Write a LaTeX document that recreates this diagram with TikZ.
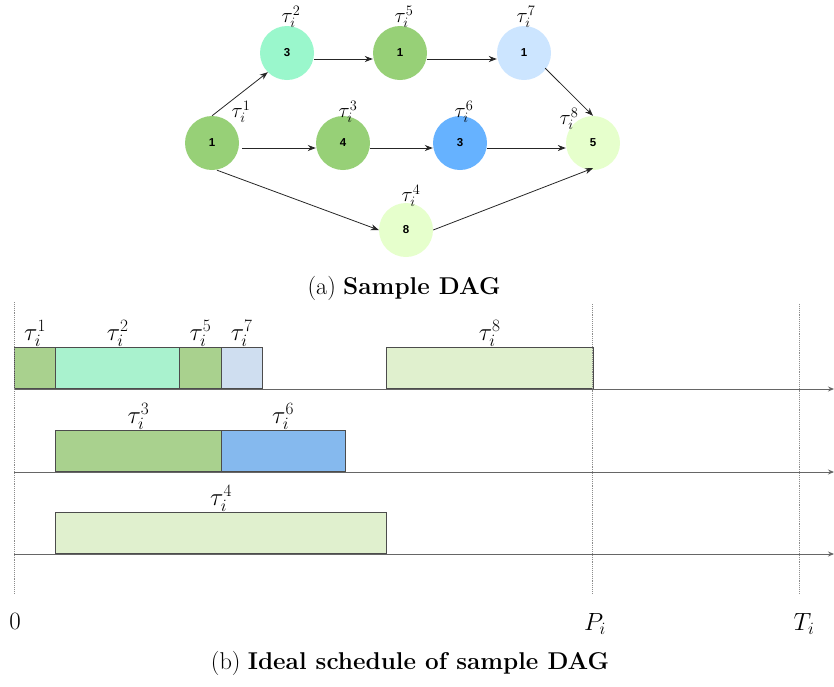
\documentclass[tikz,border=0pt]{standalone}
\usepackage{fontspec}
\newfontfamily\numfont{Liberation Sans}
\usetikzlibrary{arrows.meta}
% DAG node fills
\definecolor{dagGreen}{HTML}{97D077}
\definecolor{dagMint}{HTML}{9AF7CC}
\definecolor{dagSky}{HTML}{CCE5FF}
\definecolor{dagBlue}{HTML}{66B2FF}
\definecolor{dagPale}{HTML}{E6FFCC}
% schedule slot fills
\definecolor{slGreen}{HTML}{A9D18E}
\definecolor{slMint}{HTML}{A9F2CE}
\definecolor{slSky}{HTML}{CFDEF0}
\definecolor{slBlue}{HTML}{85B9EE}
\definecolor{slPale}{HTML}{E0F0CE}
\newcommand{\slotbox}[6]{%
  \node[slot, fill=#5, minimum width=#3*41.33pt] (#1) at (14+#2*41.33,#4) {};
  \node[slabel] at (#1.north) {$\tau_i^{#6}$};}
\begin{document}
\begin{tikzpicture}[x=1pt,y=-1pt,
  task/.style={circle, minimum size=54pt, inner sep=0pt,
    font=\numfont\bfseries\fontsize{11.5}{13}\selectfont},
  dlabel/.style={font=\fontsize{22}{24}\selectfont, inner sep=0pt},
  slabel/.style={font=\fontsize{26}{28}\selectfont, anchor=south, inner sep=0.5pt},
  edge/.style={-{Stealth[length=8pt,width=6pt]}, line width=0.8pt, draw=black!85},
  slot/.style={draw=black!70, line width=0.9pt, minimum height=41pt,
    inner sep=0pt, anchor=south west},
  axis/.style={draw=black!60, line width=0.9pt, -{Stealth[length=6pt,width=5pt]}},
  guide/.style={draw=black!45, line width=0.9pt, densely dotted},
  tick/.style={font=\fontsize{26}{28}\selectfont},
  caption/.style={font=\fontsize{24.3}{28}\selectfont}]
\useasboundingbox (0,0) rectangle (834,686);

% ---- DAG ----
\node[task, fill=dagGreen] (n1) at (212,143) {1};
\node[task, fill=dagMint]  (n2) at (287,53)  {3};
\node[task, fill=dagGreen] (n5) at (400,53)  {1};
\node[task, fill=dagSky]   (n7) at (524,53)  {1};
\node[task, fill=dagGreen] (n3) at (343,143) {4};
\node[task, fill=dagBlue]  (n6) at (460,143) {3};
\node[task, fill=dagPale]  (n8) at (593,143) {5};
\node[task, fill=dagPale]  (n4) at (406,230) {8};

\node[dlabel] at (291,17)  {$\tau_i^2$};
\node[dlabel] at (404,17)  {$\tau_i^5$};
\node[dlabel] at (526,17)  {$\tau_i^7$};
\node[dlabel] at (241,112) {$\tau_i^1$};
\node[dlabel] at (348,112) {$\tau_i^3$};
\node[dlabel] at (464,112) {$\tau_i^6$};
\node[dlabel] at (569,119) {$\tau_i^8$};
\node[dlabel] at (411,196) {$\tau_i^4$};

\draw[edge] (n1.north) -- (n2.south west);
\draw[edge] ([yshift=-6pt]n2.east) -- ([yshift=-6pt]n5.west);
\draw[edge] ([yshift=-6pt]n5.east) -- ([yshift=-6pt]n7.west);
\draw[edge] ([xshift=2pt,yshift=4pt]n7.south east) -- (n8.north);
\draw[edge] ([xshift=3pt,yshift=-5pt]n1.east) -- ([yshift=-5pt]n3.west);
\draw[edge] ([yshift=-5pt]n3.east) -- ([yshift=-5pt]n6.west);
\draw[edge] ([yshift=-5pt]n6.east) -- ([yshift=-5pt]n8.west);
\draw[edge] ([xshift=5pt]n1.south) -- (n4.west);
\draw[edge] (n4.east) -- ([yshift=2pt]n8.south);

\node[caption] (capa) at (404,288) {(a) \textbf{Sample DAG}};

% ---- schedule ----
\coordinate (o1) at (14,389);
\coordinate (o2) at (14,472);
\coordinate (o3) at (14,554);
\coordinate (e1) at (834,389);
\coordinate (e2) at (834,472);
\coordinate (e3) at (834,554);
\draw[axis] (o1) -- (e1);
\draw[axis] (o2) -- (e2);
\draw[axis] (o3) -- (e3);

\slotbox{s1}{0}{1}{389}{slGreen}{1}
\slotbox{s2}{1}{3}{389}{slMint}{2}
\slotbox{s5}{4}{1}{389}{slGreen}{5}
\slotbox{s7}{5}{1}{389}{slSky}{7}
\slotbox{s8}{9}{5}{389}{slPale}{8}
\slotbox{s3}{1}{4}{472}{slGreen}{3}
\slotbox{s6}{5}{3}{472}{slBlue}{6}
\slotbox{s4}{1}{8}{554}{slPale}{4}

\coordinate (z0) at (14,302);
\coordinate (z1) at (14,594);
\coordinate (p0) at (592.6,304);
\coordinate (p1) at (592.6,594);
\coordinate (t0) at (799.3,304);
\coordinate (t1) at (799.3,594);
\draw[guide] (z0) -- (z1);
\draw[guide] (p0) -- (p1);
\draw[guide] (t0) -- (t1);

\node[tick] (l0) at (15,621) {$0$};
\node[tick] (lp) at (595,624) {$P_i$};
\node[tick] (lt) at (804,624) {$T_i$};

\node[caption] (capb) at (410,663) {(b) \textbf{Ideal schedule of sample DAG}};
\end{tikzpicture}
\end{document}
